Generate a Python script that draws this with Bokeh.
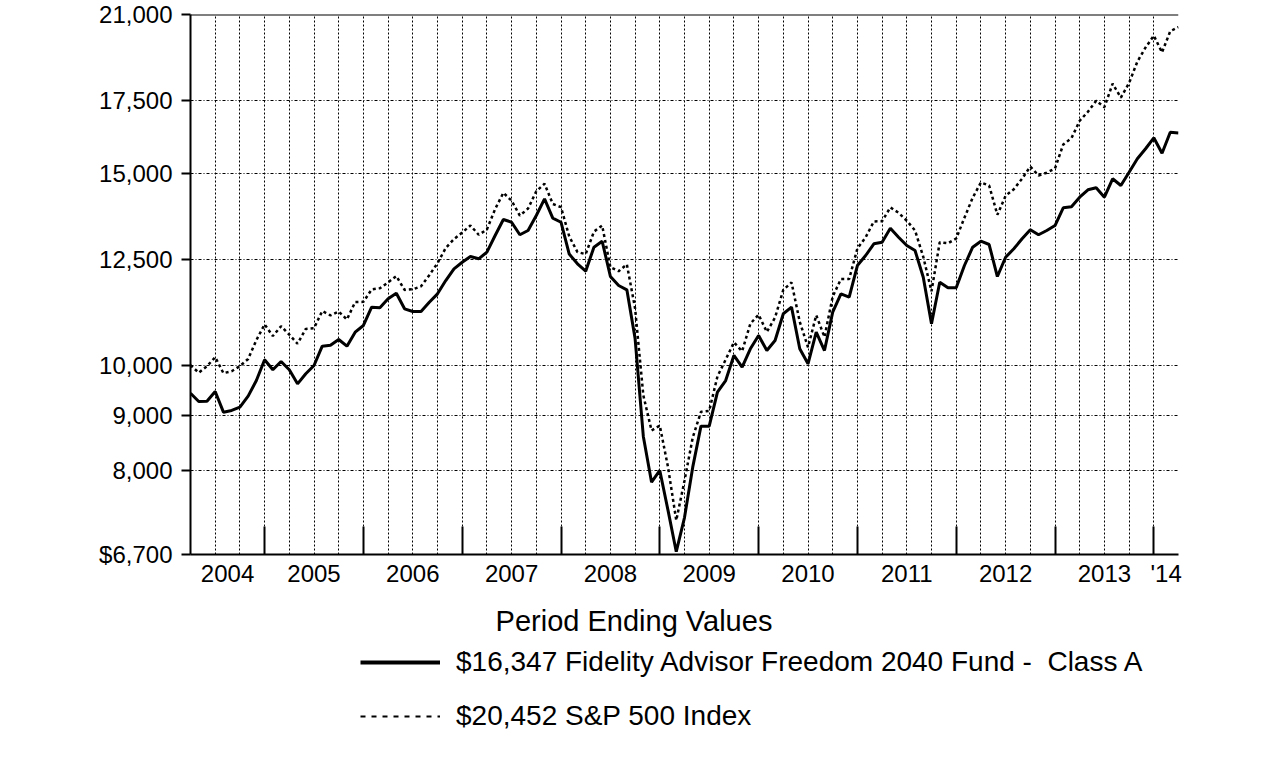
from bokeh.plotting import figure
from bokeh.layouts import column
from bokeh.models import Range1d, FixedTicker, Legend, LegendItem, Label, Span
from bokeh.embed import file_html
from bokeh.resources import INLINE

# months since 31 Mar 2004 (0) through 31 Mar 2014 (120)
months = list(range(121))

fund = [
    9425, 9261, 9265, 9459, 9054, 9087, 9150, 9366, 9681, 10116,
    9903, 10079, 9903, 9613, 9820, 9994, 10410, 10430, 10559, 10410,
    10723, 10877, 11307, 11290, 11508, 11645, 11267, 11203, 11203, 11426,
    11630, 11962, 12262, 12434, 12585, 12524, 12701, 13158, 13611, 13532,
    13178, 13298, 13726, 14219, 13648, 13532, 12650, 12392, 12201, 12835,
    12999, 12064, 11836, 11728, 10580, 8600, 7808, 8004, 7355, 6740,
    7245, 8060, 8790, 8790, 9445, 9681, 10208, 9958, 10353, 10649,
    10315, 10536, 11149, 11307, 10353, 10030, 10723, 10315, 11187, 11630,
    11549, 12348, 12612, 12928, 12972, 13363, 13110, 12882, 12747, 12045,
    10916, 11920, 11779, 11779, 12348, 12835, 12999, 12909, 12064, 12566,
    12792, 13066, 13318, 13178, 13298, 13438, 13951, 13980, 14268, 14492,
    14555, 14268, 14835, 14625, 15042, 15475, 15807, 16178, 15660, 16372,
    16347,
]

sp500 = [
    10000, 9843, 9978, 10171, 9834, 9874, 9981, 10133, 10544, 10902,
    10636, 10859, 10667, 10464, 10797, 10812, 11214, 11112, 11202, 11015,
    11431, 11434, 11737, 11769, 11915, 12075, 11727, 11743, 11816, 12097,
    12409, 12814, 13057, 13240, 13440, 13177, 13325, 13915, 14401, 14162,
    13723, 13929, 14450, 14680, 14066, 13969, 13131, 12704, 12649, 13265,
    13437, 12304, 12201, 12378, 11275, 9382, 8709, 8801, 8059, 7201,
    7832, 8581, 9061, 9079, 9765, 10118, 10495, 10300, 10918, 11129,
    10728, 11061, 11728, 11913, 10961, 10387, 11115, 10614, 11561, 12000,
    12001, 12803, 13106, 13556, 13561, 13962, 13805, 13574, 13299, 12577,
    11693, 12971, 12942, 13074, 13660, 14250, 14719, 14626, 13747, 14313,
    14512, 14839, 15222, 14940, 15027, 15164, 15949, 16166, 16772, 17096,
    17496, 17262, 18141, 17615, 18168, 19004, 19584, 20079, 19384, 20270,
    20452,
]

y_ticks = [6700, 8000, 9000, 10000, 12500, 15000, 17500, 21000]
y_labels = ["$6,700", "8,000", "9,000", "10,000", "12,500", "15,000", "17,500", "21,000"]

year_labels = ["2004", "2005", "2006", "2007", "2008", "2009", "2010", "2011", "2012", "2013", "'14"]
year_centers = [4.5, 15, 27, 39, 51, 63, 75, 87, 99, 111, 118.5]
year_bounds = [9, 21, 33, 45, 57, 69, 81, 93, 105, 117]
quarter_lines = list(range(3, 120, 3))

legend_title = "Period Ending Values"
fund_label = "$16,347 Fidelity Advisor Freedom 2040 Fund -\u00a0\u00a0Class A"
sp_label = "$20,452 S&P 500 Index"

FONT = "Liberation Sans"
W = 1270
LEFT, RIGHT = 190, 1178

# ---------------- main chart ----------------
p = figure(width=W, height=600, output_backend="svg", toolbar_location=None,
           x_range=Range1d(0, 120), y_range=Range1d(6700, 21000), y_axis_type="log",
           min_border_left=LEFT, min_border_right=W - RIGHT, min_border_top=14, min_border_bottom=46)
p.outline_line_color = None

p.yaxis.ticker = FixedTicker(ticks=y_ticks)
p.yaxis.major_label_overrides = {t: l for t, l in zip(y_ticks, y_labels)}
p.yaxis.major_tick_in = 0
p.yaxis.major_tick_out = 9
p.yaxis.major_tick_line_width = 2
p.yaxis.minor_tick_line_color = None
p.yaxis.axis_line_width = 2
p.yaxis.major_label_standoff = 9
p.yaxis.major_label_text_font = FONT
p.yaxis.major_label_text_font_size = "24px"
p.yaxis.major_label_text_color = "black"

p.xaxis.ticker = FixedTicker(ticks=year_centers, minor_ticks=year_bounds)
p.xaxis.major_label_overrides = {t: l for t, l in zip(year_centers, year_labels)}
p.xaxis.major_tick_line_color = None
p.xaxis.major_tick_in = 0
p.xaxis.major_tick_out = 0
p.xaxis.minor_tick_in = 28
p.xaxis.minor_tick_out = 0
p.xaxis.minor_tick_line_width = 2
p.xaxis.minor_tick_line_color = "black"
p.xaxis.axis_line_width = 2
p.xaxis.major_label_standoff = 5
p.xaxis.major_label_text_font = FONT
p.xaxis.major_label_text_font_size = "24px"
p.xaxis.major_label_text_color = "black"

p.xgrid.ticker = FixedTicker(ticks=quarter_lines)
p.xgrid.grid_line_color = "black"
p.xgrid.grid_line_dash = "2 2"
p.xgrid.grid_line_width = 1
p.ygrid.ticker = FixedTicker(ticks=[8000, 9000, 10000, 12500, 15000, 17500])
p.ygrid.grid_line_color = "black"
p.ygrid.grid_line_dash = "3 2 1 2"
p.ygrid.grid_line_width = 1

p.add_layout(Span(location=21000, dimension="width", line_color="black", line_width=2))

p.line(months, fund, line_color="black", line_width=3)
p.line(months, sp500, line_color="black", line_width=2.5, line_dash="3 3")

# ---------------- legend panel ----------------
H2 = 158
q = figure(width=W, height=H2, output_backend="svg", toolbar_location=None,
           x_range=Range1d(LEFT, RIGHT), y_range=Range1d(600 + H2, 600),
           x_axis_location=None, y_axis_location=None,
           min_border_left=LEFT, min_border_right=W - RIGHT, min_border_top=0, min_border_bottom=0)
q.outline_line_color = None
q.grid.visible = False

# legend sample renderers (their points lie outside the panel's ranges, only the key is drawn)
s_fund = q.line([0, 1], [0, 0], line_color="black", line_width=4)
s_sp = q.line([0, 1], [0, 0], line_color="black", line_width=2, line_dash="5 6")

legend = Legend(items=[LegendItem(label=fund_label, renderers=[s_fund]),
                       LegendItem(label=sp_label, renderers=[s_sp])],
                location=(360 - LEFT, H2 - 46 - 86), orientation="vertical",
                padding=0, margin=0, spacing=22, glyph_width=80, glyph_height=32,
                label_height=32, label_standoff=16,
                label_text_font=FONT, label_text_font_size="28px", label_text_color="black",
                background_fill_alpha=0, border_line_color=None)
q.add_layout(legend)

q.add_layout(Label(x=633.5, y=138, y_units="screen", text=legend_title,
                   text_font=FONT, text_font_size="29px", text_align="center",
                   text_baseline="alphabetic", text_color="black"))

open("out.html", "w").write(file_html(column(p, q, spacing=0), INLINE))
